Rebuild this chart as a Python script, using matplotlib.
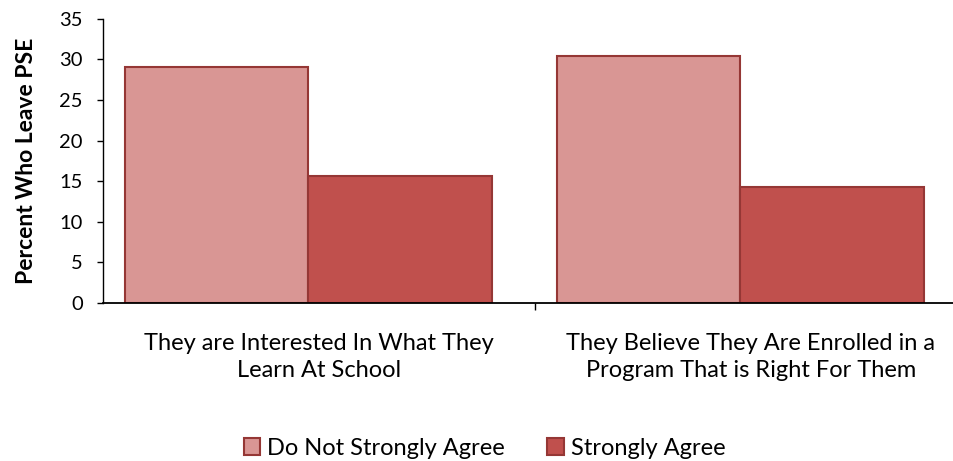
import matplotlib.pyplot as plt
import numpy as np

plt.rcParams['font.family'] = ['Lato', 'DejaVu Sans']

categories = ["They are Interested In What They\nLearn At School",
              "They Believe They Are Enrolled in a\nProgram That is Right For Them"]
not_strongly = [29.1, 30.4]
strongly = [15.6, 14.3]
series_names = ["Do Not Strongly Agree", "Strongly Agree"]

light = '#D99694'
dark = '#C0504D'
edge = '#953735'

fig = plt.figure(figsize=(9.54, 4.61), dpi=100)
ax = fig.add_axes([0.108, 0.343, 0.892, 0.616])

x = np.arange(len(categories))
width = 0.425
shift = -0.025
ax.bar(x + shift - width / 2, not_strongly, width, color=light,
       edgecolor=edge, linewidth=1.5, label=series_names[0], zorder=2)
ax.bar(x + shift + width / 2, strongly, width, color=dark,
       edgecolor=edge, linewidth=1.5, label=series_names[1], zorder=2)

ax.set_xlim(-0.5, 1.47)
ax.set_ylim(0, 35)
ax.set_yticks(range(0, 36, 5))
ax.tick_params(axis='y', labelsize=14.5, length=4, width=1, direction='out',
               pad=10.5)

ax.set_xticks(x)
ax.set_xticklabels(categories, fontsize=17, linespacing=1.3)
ax.tick_params(axis='x', length=0, pad=22)
ax.set_xticks([0.5], minor=True)
ax.tick_params(axis='x', which='minor', length=5, width=1, direction='out')

for side in ('top', 'right'):
    ax.spines[side].set_visible(False)
ax.spines['left'].set_linewidth(1)
ax.spines['bottom'].set_linewidth(1.3)
ax.spines['bottom'].set_zorder(3)

ax.set_ylabel("Percent Who Leave PSE", fontsize=16.5, fontweight='bold',
              labelpad=16)

fig.legend(loc='center', bbox_to_anchor=(0.508, 0.028), ncol=2, frameon=False,
           fontsize=17, handlelength=0.7, handleheight=0.7, handletextpad=0.3,
           columnspacing=1.8, borderaxespad=0)

fig.savefig('out.png', dpi=100)
